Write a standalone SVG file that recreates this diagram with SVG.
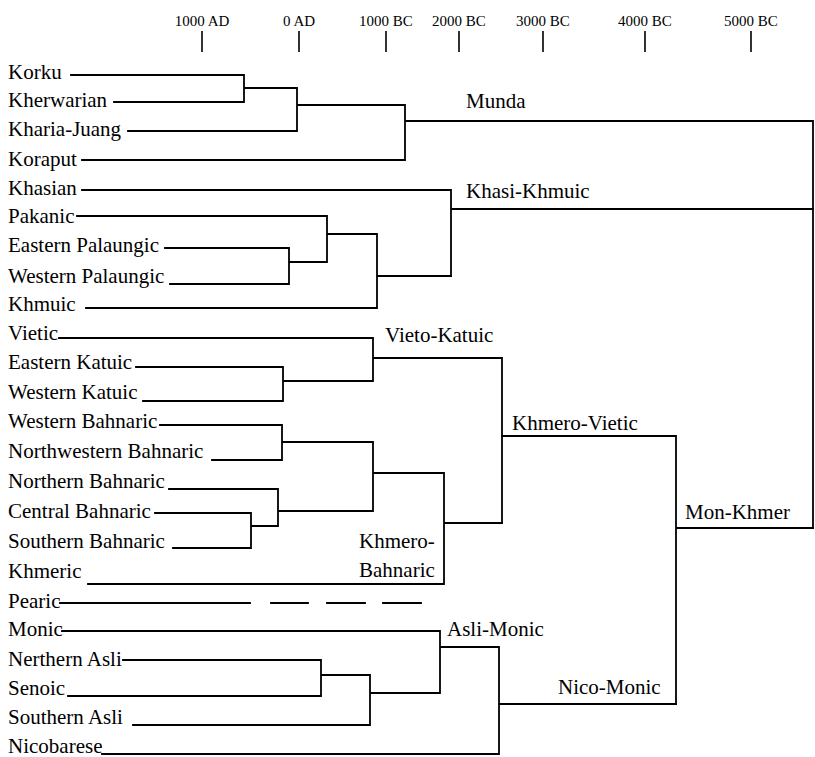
<svg xmlns="http://www.w3.org/2000/svg" width="815" height="757" viewBox="0 0 815 757">
<style>
text{font-family:"Liberation Serif","Times New Roman",serif;fill:#000}
.lf{font-size:21px}
.ax{font-size:15px;text-anchor:middle}
.c{fill:none;stroke:#000;stroke-width:1.8;stroke-linecap:square}
.t{stroke:#000;stroke-width:1.6}
</style>
<rect width="815" height="757" fill="#fff"/>
<g id="axis">
<text class="ax" x="202" y="26">1000 AD</text>
<text class="ax" x="299" y="26">0 AD</text>
<text class="ax" x="386" y="26">1000 BC</text>
<text class="ax" x="459" y="26">2000 BC</text>
<text class="ax" x="543" y="26">3000 BC</text>
<text class="ax" x="645" y="26">4000 BC</text>
<text class="ax" x="751" y="26">5000 BC</text>
<path class="t" d="M202 31V52M299 31V52M386 31V52M459 31V52M543 31V52M645 31V52M751 31V52"/>
</g>
<g id="leaves" class="lf">
<g id="korku"><text x="8" y="79">Korku</text></g>
<g id="kherwarian"><text x="8" y="107">Kherwarian</text></g>
<g id="kharia-juang"><text x="8" y="136">Kharia-Juang</text></g>
<g id="koraput"><text x="8" y="166">Koraput</text></g>
<g id="khasian"><text x="8" y="195">Khasian</text></g>
<g id="pakanic"><text x="8" y="223">Pakanic</text></g>
<g id="eastern-palaungic"><text x="8" y="252">Eastern Palaungic</text></g>
<g id="western-palaungic"><text x="8" y="283">Western Palaungic</text></g>
<g id="khmuic"><text x="8" y="311">Khmuic</text></g>
<g id="vietic"><text x="8" y="340">Vietic</text></g>
<g id="eastern-katuic"><text x="8" y="369">Eastern Katuic</text></g>
<g id="western-katuic"><text x="8" y="399">Western Katuic</text></g>
<g id="western-bahnaric"><text x="8" y="428">Western Bahnaric</text></g>
<g id="northwestern-bahnaric"><text x="8" y="458">Northwestern Bahnaric</text></g>
<g id="northern-bahnaric"><text x="8" y="488">Northern Bahnaric</text></g>
<g id="central-bahnaric"><text x="8" y="518">Central Bahnaric</text></g>
<g id="southern-bahnaric"><text x="8" y="548">Southern Bahnaric</text></g>
<g id="khmeric"><text x="8" y="578">Khmeric</text></g>
<g id="pearic"><text x="8" y="608">Pearic</text></g>
<g id="monic"><text x="8" y="636">Monic</text></g>
<g id="nerthern-asli"><text x="8" y="666">Nerthern Asli</text></g>
<g id="senoic"><text x="8" y="695">Senoic</text></g>
<g id="southern-asli"><text x="8" y="724">Southern Asli</text></g>
<g id="nicobarese"><text x="8" y="753">Nicobarese</text></g>
</g>
<g id="clades" class="lf">
<g id="munda"><text x="466" y="108">Munda</text></g>
<g id="khasi-khmuic"><text x="466" y="198">Khasi-Khmuic</text></g>
<g id="vieto-katuic"><text x="385" y="342">Vieto-Katuic</text></g>
<g id="khmero-vietic"><text x="512" y="430">Khmero-Vietic</text></g>
<g id="khmero-bahnaric"><text x="359" y="548">Khmero-</text><text x="359" y="577">Bahnaric</text></g>
<g id="mon-khmer"><text x="685" y="519">Mon-Khmer</text></g>
<g id="asli-monic"><text x="447" y="636">Asli-Monic</text></g>
<g id="nico-monic"><text x="558" y="694">Nico-Monic</text></g>
</g>
<g id="connectors" class="c">
<path d="M71 75H244V102H114M244 88H297V131H128M297 105H405V160H82M405 121H813V528"/>
<path d="M82 190H451V276M451 209H813"/>
<path d="M77 216H327V262H289M165 248H289V284H170M327 234H377V308H86M377 276H451"/>
<path d="M59 338H373V381M136 367H283V401H143M283 381H373M373 358H502V523"/>
<path d="M160 425H282V460H212M282 442H373V511M155 513H251V548H173M251 526H278M169 489H278V526M278 511H373M373 473H444V584H88M444 523H502"/>
<path d="M502 436H676V704M676 528H813"/>
<path d="M60 603H250M271 603H308M327 603H365M383 603H421"/>
<path d="M62 631H440V693M123 660H321V696H68M321 675H370M133 725H370V675M370 693H440M440 647H499V754H102M499 704H676"/>
</g>
</svg>
